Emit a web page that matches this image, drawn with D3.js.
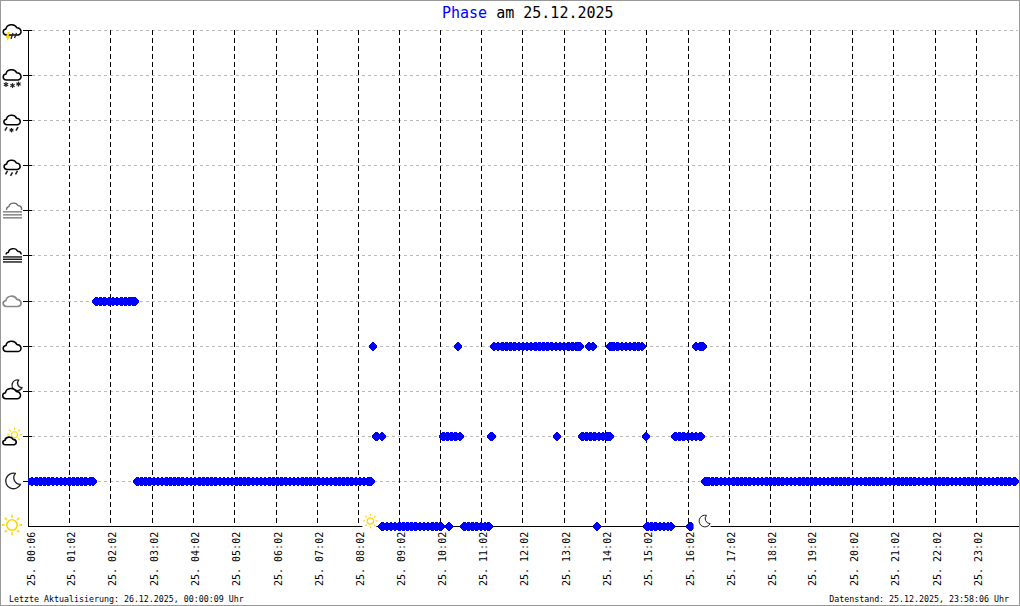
<!DOCTYPE html>
<html>
<head>
<meta charset="utf-8">
<script src="https://cdn.jsdelivr.net/npm/d3@7"></script>
<style>
html, body { margin: 0; padding: 0; background: #fff; }
svg { display: block; }
text { font-family: "DejaVu Sans Mono", monospace; fill: #000; }
</style>
</head>
<body>
<div id="chart"></div>
<script>
// hour labels and the sample number each one sits on
var tickLabels = ["25. 00:06","25. 01:02","25. 02:02","25. 03:02","25. 04:02","25. 05:02","25. 06:02","25. 07:02",
  "25. 08:02","25. 09:02","25. 10:02","25. 11:02","25. 12:02","25. 13:02","25. 14:02","25. 15:02",
  "25. 16:02","25. 17:02","25. 18:02","25. 19:02","25. 20:02","25. 21:02","25. 22:02","25. 23:02"];
var tickSamples = [0,10,19.9,30,40,50,60.1,70,80,89.85,99.95,109.85,119.85,130,140,149.9,160,170,180,189.7,199.9,209.85,220,229.9];

// phase levels, bottom to top
var phases = ["sun","moon","sunCloud","moonCloud","cloud","greyCloud","fog","haze","rain","sleet","snow","storm"];

// sample numbers read per phase level
var level0 = [86,87,88,89,90,91,92,93,94,95,96,97,98,99,100,102.1,105.8,106.8,107.8,108.8,109.8,110.8,111.6,138,
  150.2,151.2,152.2,153.2,154.2,155.2,155.9,160.6];
var level1 = [0,1,2,3,4,5,6,7,8,9,10,11,12,13,14,15,15.7,
  26.5,27.5,28.5,29.5,30.5,31.5,32.5,33.5,34.5,35.5,36.5,37.5,38.5,39.5,40.5,41.5,42.5,43.5,44.5,45.5,46.5,47.5,48.5,49.5,
  50.5,51.5,52.5,53.5,54.5,55.5,56.5,57.5,58.5,59.5,60.5,61.5,62.5,63.5,64.5,65.5,66.5,67.5,68.5,69.5,70.5,71.5,72.5,73.5,74.5,
  75.5,76.5,77.5,78.5,79.5,80.5,81.5,82.5,83.1,
  164.3,165,166,167,168,169,170,171,172,173,174,175,176,177,178,179,180,181,182,183,184,185,186,187,188,189,190,191,192,193,
  194,195,196,197,198,199,200,201,202,203,204,205,206,207,208,209,210,211,212,213,214,215,216,217,218,219,220,221,222,223,
  224,225,226,227,228,229,230,231,232,233,234,235,236,237,238,239.2];
var level2 = [84.5,85.8,100.7,101.7,102.7,103.7,104.7,112.3,112.5,128.3,134.4,135.4,136.4,137.4,138.4,139.4,140.4,141,149.8,
  157,158,159,160,161,162,163.1];
var level4 = [83.6,104.3,113,114,115,116,117,118,119,120,121,122,123,124,125,126,127,128,129,130,131,132,133,133.7,136,137,
  141.2,142,143,144,145,146,147,148,148.9,162,163,163.7];
var level5 = [16.6,17.6,18.6,19.6,20.6,21.6,22.6,23.6,24.6,25.4,25.9];

var sunriseSample = 83, sunsetSample = 163.8;

var titleWord = "Phase", titleRest = " am 25.12.2025";
var footLeft = "Letzte Aktualisierung: 26.12.2025, 00:00:09 Uhr";
var footRight = "Datenstand: 25.12.2025, 23:58:06 Uhr";

var width = 1020, height = 606;
var svg = d3.select("#chart").append("svg").attr("width", width).attr("height", height);

var x = d3.scaleLinear().domain([0, 240]).range([28.06, 1017.82]);
var y = d3.scaleLinear().domain([0, 11]).range([526, 30]);
var snap = function(v) { return Math.floor(v + 0.5) + 0.5; };

svg.append("rect").attr("x", 0.5).attr("y", 0.5).attr("width", width - 1).attr("height", height - 1)
  .attr("fill", "#fff").attr("stroke", "#999");

// markers are cut off at the y axis
svg.append("clipPath").attr("id", "plotclip").append("rect")
  .attr("x", 28).attr("y", 20).attr("width", 991).attr("height", 520);

// horizontal grid + y ticks
var yAxis = d3.axisLeft(y).tickValues(d3.range(0, 12)).tickSize(0).tickFormat("");
var yg = svg.append("g").attr("transform", "translate(28,0)").call(yAxis);
yg.select(".domain").remove();
yg.selectAll(".tick").each(function(d) {
  var t = d3.select(this).attr("transform", "translate(0," + snap(y(d)) + ")");
  t.selectAll("line").remove();
  if (d > 0) {
    t.append("line").attr("x1", 4).attr("x2", 990).attr("stroke", "#bbb").attr("stroke-dasharray", "3,3");
    t.append("line").attr("x1", -5).attr("x2", 4).attr("stroke", "#000");
  }
});

// vertical hour lines + rotated labels
var xAxis = d3.axisBottom(x).tickValues(tickSamples).tickSize(0).tickFormat("");
var xg = svg.append("g").attr("transform", "translate(0,526)").call(xAxis);
xg.select(".domain").remove();
xg.selectAll(".tick").each(function(d, i) {
  var t = d3.select(this).attr("transform", "translate(" + snap(x(d)) + ",0)");
  t.selectAll("line").remove();
  t.selectAll("text").remove();
  if (i > 0) {
    t.append("line").attr("y1", -496).attr("y2", 0).attr("stroke", "#000").attr("stroke-dasharray", "5,3");
  }
  t.append("text").text(tickLabels[i])
    .attr("transform", "translate(" + (i == 0 ? 6 : 5) + ",60) rotate(-90)")
    .attr("text-anchor", "start").attr("font-size", 10).attr("xml:space", "preserve");
});

// axis lines
svg.append("line").attr("x1", 28.5).attr("x2", 28.5).attr("y1", 30).attr("y2", 527).attr("stroke", "#000").attr("stroke-width", 1);
svg.append("line").attr("x1", 28).attr("x2", 1019).attr("y1", 526.5).attr("y2", 526.5).attr("stroke", "#000").attr("stroke-width", 1);

// blocky diamond, blunt tips so neighbours merge into a band
var bluntDiamond = {
  draw: function(ctx, size) {
    var r = Math.sqrt(size), f = 1;
    ctx.moveTo(-f, -r); ctx.lineTo(f, -r); ctx.lineTo(r, -f); ctx.lineTo(r, f);
    ctx.lineTo(f, r); ctx.lineTo(-f, r); ctx.lineTo(-r, f); ctx.lineTo(-r, -f);
    ctx.closePath();
  }
};
var diamond = d3.symbol().type(bluntDiamond).size(18.5)();
var levels = [[0, level0], [1, level1], [2, level2], [4, level4], [5, level5]];
levels.forEach(function(l) {
  svg.append("g").attr("clip-path", "url(#plotclip)").selectAll("path").data(l[1]).enter().append("path")
    .attr("d", diamond)
    .attr("fill", "#0000ff")
    .attr("shape-rendering", "crispEdges")
    .attr("transform", function(d) { return "translate(" + x(d) + "," + snap(y(l[0])) + ")"; });
});

// ---- icons
var YEL = "#ffd500";
function drawSun(g, cx, cy, r, ray, sw) {
  for (var a = 0; a < 8; a++) {
    var ang = a * Math.PI / 4;
    g.append("line")
      .attr("x1", cx + Math.cos(ang) * (r + 2)).attr("y1", cy + Math.sin(ang) * (r + 2))
      .attr("x2", cx + Math.cos(ang) * (r + 2 + ray)).attr("y2", cy + Math.sin(ang) * (r + 2 + ray))
      .attr("stroke", YEL).attr("stroke-width", sw);
  }
  g.append("circle").attr("cx", cx).attr("cy", cy).attr("r", r).attr("fill", "#fff").attr("stroke", YEL).attr("stroke-width", sw);
}
function cloudPath(g, ox, oy, s, col, sw) {
  // flattened cloud, stroke stays the same width
  g.append("path")
    .attr("d", "M-5.5,5.5 A3.6,3.6 0 0 1 -6,-1.6 A5.6,5.6 0 0 1 4.8,-3 A4.4,4.4 0 0 1 6.2,5.5 Z")
    .attr("transform", "translate(" + ox + "," + oy + ") scale(" + s + "," + (s * 0.85) + ")")
    .attr("vector-effect", "non-scaling-stroke")
    .attr("fill", "#fff").attr("stroke", col).attr("stroke-width", sw).attr("stroke-linejoin", "round");
}
function crescent(g, ox, oy, s, col, sw) {
  g.append("path")
    .attr("d", "M2.5,-7.5 A7.8,7.8 0 1 0 7.5,3.5 A6.6,6.6 0 0 1 2.5,-7.5 Z")
    .attr("transform", "translate(" + ox + "," + oy + ") scale(" + s + ")")
    .attr("fill", "#fff").attr("stroke", col).attr("stroke-width", sw / s).attr("stroke-linejoin", "round");
}
function hLines(g, x1, x2, ys, col, sw) {
  ys.forEach(function(v) {
    g.append("line").attr("x1", x1).attr("x2", x2).attr("y1", v).attr("y2", v).attr("stroke", col).attr("stroke-width", sw);
  });
}
// little slanted drops
function drops(g, pts, col) {
  pts.forEach(function(p) {
    g.append("line").attr("x1", p[0] + 1).attr("y1", p[1] - 2).attr("x2", p[0] - 1).attr("y2", p[1] + 1.5)
      .attr("stroke", col).attr("stroke-width", 1.6);
  });
}
function flakes(g, pts, col, r) {
  pts.forEach(function(p) {
    for (var a = 0; a < 3; a++) {
      var ang = a * Math.PI / 3 + Math.PI / 6;
      g.append("line")
        .attr("x1", p[0] - Math.cos(ang) * r).attr("y1", p[1] - Math.sin(ang) * r)
        .attr("x2", p[0] + Math.cos(ang) * r).attr("y2", p[1] + Math.sin(ang) * r)
        .attr("stroke", col).attr("stroke-width", 1.2);
    }
  });
}

var icons = {
  sun: function(g) { drawSun(g, 12, -1, 5.2, 3, 1.6); },
  moon: function(g) { crescent(g, 13, 0, 1, "#222", 1.3); },
  sunCloud: function(g) {
    drawSun(g, 14.5, -1, 3, 2.5, 1.1);
    cloudPath(g, 9.5, 5.5, 0.75, "#000", 1.6);
  },
  moonCloud: function(g) {
    crescent(g, 17, -5.5, 0.68, "#222", 1.4);
    cloudPath(g, 11.5, 3.3, 1, "#000", 1.5);
  },
  cloud: function(g) { cloudPath(g, 12, 1.3, 1, "#000", 1.5); },
  greyCloud: function(g) { cloudPath(g, 12, 1.3, 1, "#888", 1.7); },
  fog: function(g) {
    cloudPath(g, 13.5, -2, 0.85, "#000", 1.4);
    g.append("rect").attr("x", 3).attr("y", -1).attr("width", 20).attr("height", 9).attr("fill", "#fff");
    hLines(g, 3, 22, [1.5, 3.8, 6.5], "#000", 1.3);
  },
  haze: function(g) {
    cloudPath(g, 14, -2.5, 0.85, "#666", 1.3);
    g.append("rect").attr("x", 3).attr("y", -0.5).attr("width", 20).attr("height", 9).attr("fill", "#fff");
    hLines(g, 3, 22, [1.5, 4.5, 7.5], "#666", 1.2);
  },
  rain: function(g) {
    cloudPath(g, 12, 0, 0.9, "#000", 1.5);
    drops(g, [[6.5, 7.5], [11.5, 9], [16.5, 7.5]], "#222");
  },
  sleet: function(g) {
    cloudPath(g, 12, 0.3, 0.92, "#000", 1.5);
    drops(g, [[6, 9], [17, 9]], "#222");
    flakes(g, [[11.5, 10]], "#222", 2.2);
  },
  snow: function(g) {
    cloudPath(g, 12, 0.3, 1, "#000", 1.5);
    flakes(g, [[6, 9.5], [12.5, 10.5], [18.5, 9]], "#222", 2.5);
  },
  storm: function(g) {
    cloudPath(g, 12, 0.3, 1, "#000", 1.5);
    g.append("path").attr("d", "M8,2 L5.5,8 L7.5,8 L6,12 L10.5,6 L8.5,6 L10,2 Z").attr("fill", YEL);
    [[13, 3, 11, 9], [16.5, 3, 14.5, 8]].forEach(function(l) {
      g.append("line").attr("x1", l[0]).attr("y1", l[1]).attr("x2", l[2]).attr("y2", l[3]).attr("stroke", "#222").attr("stroke-width", 1.3);
    });
  }
};
phases.forEach(function(p, i) {
  var g = svg.append("g").attr("transform", "translate(0," + y(i) + ")");
  icons[p](g);
});

// sunrise / sunset marks on the time axis, white box breaks the axis
var sr = svg.append("g").attr("transform", "translate(" + x(sunriseSample) + ",521)");
sr.append("rect").attr("x", -8).attr("y", -9).attr("width", 14).attr("height", 17).attr("fill", "#fff");
drawSun(sr, 0, 0, 3.2, 2, 1.2);
var ss = svg.append("g").attr("transform", "translate(" + x(sunsetSample) + ",521)");
ss.append("rect").attr("x", -10).attr("y", -9).attr("width", 17).attr("height", 17).attr("fill", "#fff");
crescent(ss, 1, 0, 0.75, "#222", 1);

// title and footer
var title = svg.append("text").attr("x", 442).attr("y", 18).attr("font-size", 15).attr("xml:space", "preserve");
title.append("tspan").text(titleWord).style("fill", "#0000ff");
title.append("tspan").text(titleRest);
svg.append("text").attr("x", 9).attr("y", 602).attr("font-size", 8.3).text(footLeft);
svg.append("text").attr("x", 1009).attr("y", 602).attr("font-size", 8.3).attr("text-anchor", "end").text(footRight);
</script>
</body>
</html>
